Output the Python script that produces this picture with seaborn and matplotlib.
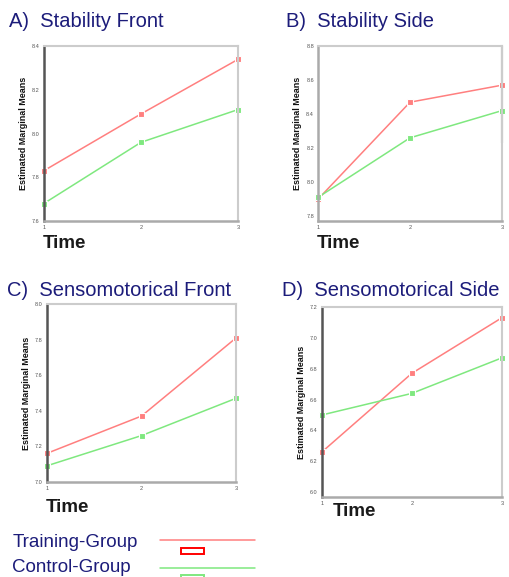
import matplotlib
matplotlib.use("Agg")
import matplotlib.pyplot as plt
from matplotlib.lines import Line2D
from matplotlib.patches import Rectangle
import seaborn as sns
import pandas as pd

sns.set_theme(style="white")
plt.rcParams['font.family'] = ['Liberation Sans', 'DejaVu Sans']

time_points = [1, 2, 3]
groups = ["Training-Group", "Control-Group"]

titles = ["A)  Stability Front", "B)  Stability Side",
          "C)  Sensomotorical Front", "D)  Sensomotorical Side"]

stab_front_training = [7.83, 8.09, 8.34]
stab_front_control = [7.68, 7.96, 8.11]
stab_side_training = [7.90, 8.47, 8.57]
stab_side_control = [7.91, 8.26, 8.42]
senso_front_training = [7.16, 7.37, 7.81]
senso_front_control = [7.09, 7.26, 7.47]
senso_side_training = [6.26, 6.77, 7.13]
senso_side_control = [6.50, 6.64, 6.87]

yticks_a = [7.6, 7.8, 8.0, 8.2, 8.4]
yticks_b = [7.8, 8.0, 8.2, 8.4, 8.6, 8.8]
yticks_c = [7.0, 7.2, 7.4, 7.6, 7.8, 8.0]
yticks_d = [6.0, 6.2, 6.4, 6.6, 6.8, 7.0, 7.2]

errbar_b = [8.23, 8.80]  # vertical bar at time 3, panel B

panels = [
    (stab_front_training, stab_front_control, yticks_a, (7.6, 8.4)),
    (stab_side_training, stab_side_control, yticks_b, (7.77, 8.8)),
    (senso_front_training, senso_front_control, yticks_c, (7.0, 8.0)),
    (senso_side_training, senso_side_control, yticks_d, (5.97, 7.2)),
]

rects = [
    [0.086, 0.617, 0.381, 0.303],
    [0.624, 0.617, 0.360, 0.303],
    [0.092, 0.165, 0.371, 0.308],
    [0.631, 0.139, 0.353, 0.329],
]

time_pos = [(0.084, 0.578), (0.622, 0.578), (0.090, 0.120), (0.652, 0.114)]
title_pos = [(0.018, 0.963), (0.560, 0.963), (0.014, 0.496), (0.553, 0.496)]

red = "#ff7f7f"
green = "#7fe87f"
palette = {"Training-Group": red, "Control-Group": green}
title_color = "#1c1c7a"

fig = plt.figure(figsize=(5.10, 5.77), dpi=100)

for i, ((tr, co, yt, ylim), rect) in enumerate(zip(panels, rects)):
    ax = fig.add_axes(rect)
    df = pd.DataFrame({
        "Time": time_points * 2,
        "value": tr + co,
        "group": [groups[0]] * 3 + [groups[1]] * 3,
    })
    sns.lineplot(data=df, x="Time", y="value", hue="group", palette=palette,
                 marker="s", markersize=4.5, markeredgewidth=0.8, linewidth=1.1,
                 legend=False, ax=ax, clip_on=False)
    ax.set_xlim(1, 3)
    ax.set_ylim(*ylim)
    ax.set_xticks(time_points)
    ax.set_xticklabels([str(t) for t in time_points])
    ax.set_yticks(yt)
    ax.set_yticklabels([f"{v:.1f}" for v in yt])
    ax.tick_params(axis="both", labelsize=4, colors="#555555", length=2, width=0.6, pad=1)
    ax.set_xlabel("")
    ax.set_ylabel("Estimated Marginal Means", fontsize=6.5, color="#111111",
                  fontweight="bold", labelpad=3)
    for side in ["top", "right"]:
        ax.spines[side].set_color("#cccccc")
        ax.spines[side].set_linewidth(1.5)
    ax.spines["left"].set_color("#555555" if i != 1 else "#aaaaaa")
    ax.spines["left"].set_linewidth(1.8)
    ax.spines["bottom"].set_color("#aaaaaa")
    ax.spines["bottom"].set_linewidth(1.8)
    ax.set_facecolor("white")
    if i == 1:
        ax.vlines(time_points[2], errbar_b[0], errbar_b[1], color="#666666",
                  linewidth=1.5, clip_on=False)

for (x, y) in time_pos:
    fig.text(x, y, "Time", fontsize=13.5, fontweight="bold", color="#1a1a1a",
             ha="left", va="center")

for (x, y), t in zip(title_pos, titles):
    fig.text(x, y, t, fontsize=14.5, color=title_color, va="center")

# legend
fig.text(0.024, 0.059, groups[0], fontsize=13.5, color=title_color, va="center")
fig.text(0.024, 0.017, groups[1], fontsize=13.5, color=title_color, va="center")
fig.add_artist(Line2D([0.314, 0.500], [0.064, 0.064], color=red, lw=1.1,
                      transform=fig.transFigure))
fig.add_artist(Rectangle((0.355, 0.040), 0.045, 0.010, facecolor="white",
                         edgecolor="red", lw=1.4, transform=fig.transFigure))
fig.add_artist(Line2D([0.314, 0.500], [0.016, 0.016], color=green, lw=1.1,
                      transform=fig.transFigure))
fig.add_artist(Rectangle((0.355, -0.004), 0.045, 0.008, facecolor="white",
                         edgecolor=green, lw=1.4, transform=fig.transFigure))

fig.savefig("out.png", dpi=100, facecolor="white")
